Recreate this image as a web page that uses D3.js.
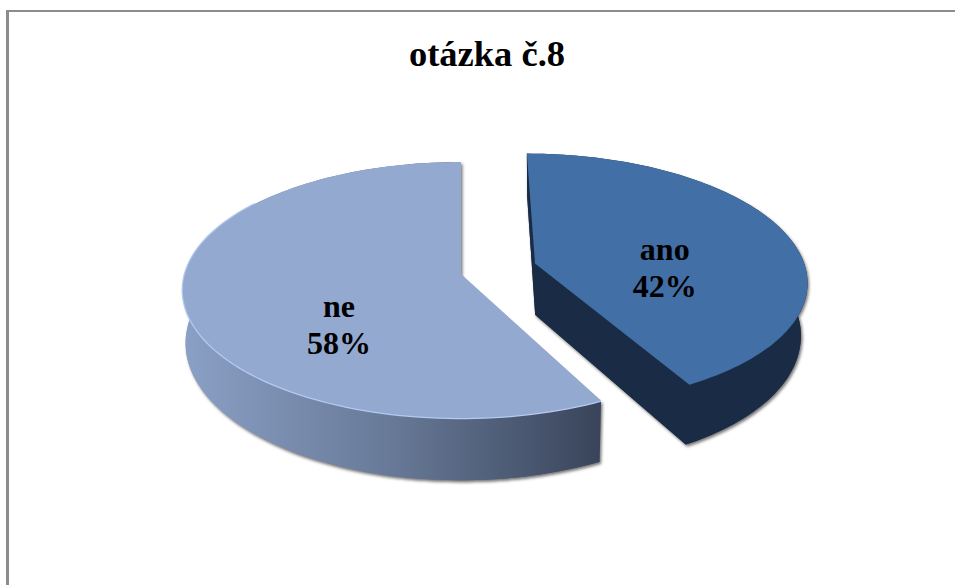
<!DOCTYPE html>
<html>
<head>
<meta charset="utf-8">
<script src="https://cdn.jsdelivr.net/npm/d3@7"></script>
<style>
  body { margin: 0; background: #fff; }
  text { font-family: "Liberation Serif", serif; font-weight: bold; fill: #000; text-anchor: middle; }
</style>
</head>
<body>
<script>
const title = 'otázka č.8';
const categories = ['ano', 'ne'];
const values = [42, 58];
const topColors = ['#426fa5', '#93a9cf'];

const w = 955, h = 585;
const svg = d3.select('body').append('svg').attr('width', w).attr('height', h);

// perspective squeeze of the flat pie onto the page
const persp = 0.125;
const cx = 461, cyTop = 274, cyBottom = 326;
const ryTop = 126, ryBottom = 135;
const rxs = [272, 276];
const bottomShrink = [0.975, 0.99];
const bottomShift = [2, 0];
const explode = [[0.275, -0.085], [0, 0]];
const startTrim = [0, 0.035];   // ne starts a touch later than ano ends

function projectTop(X, Y, i) {
  const d = 1 - persp * Y;
  return [cx + rxs[i] * X / d, cyTop + ryTop * Y / d];
}
function projectBottom(X, Y, i) {
  const d = 1 - persp * Y;
  return [cx + bottomShift[i] + rxs[i] * bottomShrink[i] * X / d, cyBottom + ryBottom * Y / d];
}

const pie = d3.pie().sort(null).startAngle(0).endAngle(2 * Math.PI);
const arcs = pie(values);
const line = d3.line();

function rim(a, i, project) {
  const [dx, dy] = explode[i];
  const start = a.startAngle + startTrim[i];
  return d3.range(0, 121).map(k => {
    const t = start + (a.endAngle - start) * k / 120;
    return project(Math.sin(t) + dx, -Math.cos(t) + dy, i);
  });
}
function centre(i, project) {
  return project(explode[i][0], explode[i][1], i);
}

const defs = svg.append('defs');
defs.append('filter').attr('id', 'soft')
  .attr('x', '-5%').attr('y', '-5%').attr('width', '110%').attr('height', '110%')
  .append('feGaussianBlur').attr('stdDeviation', 1.6);
defs.append('filter').attr('id', 'edge')
  .append('feGaussianBlur').attr('stdDeviation', 0.7);

const wallGrad = defs.append('linearGradient').attr('id', 'wallNe')
  .attr('gradientUnits', 'userSpaceOnUse')
  .attr('x1', 183).attr('x2', 602).attr('y1', 0).attr('y2', 0);
wallGrad.append('stop').attr('offset', 0).attr('stop-color', '#8ba0c6');
wallGrad.append('stop').attr('offset', 0.5).attr('stop-color', '#677997');
wallGrad.append('stop').attr('offset', 1).attr('stop-color', '#39445a');

// chart frame, runs off the page to the right and bottom
svg.append('line').attr('x1', 7.5).attr('x2', 7.5).attr('y1', 10).attr('y2', h)
  .attr('stroke', '#8c8c8c').attr('stroke-width', 3);
svg.append('line').attr('x1', 6).attr('x2', w).attr('y1', 11).attr('y2', 11)
  .attr('stroke', '#8c8c8c').attr('stroke-width', 2);

svg.append('text').attr('x', 487).attr('y', 66).attr('font-size', 36.5).text(title);

const sideFill = ['#1a2c45', 'url(#wallNe)'];

// ne goes first, ano sits over it
[1, 0].forEach(i => {
  const a = arcs[i];
  const topRim = rim(a, i, projectTop);
  const botRim = rim(a, i, projectBottom);
  const topC = centre(i, projectTop);
  const botC = centre(i, projectBottom);
  const g = svg.append('g');

  // one closed outline per face, so windings can't cancel each other
  const faces = [
    [botC, ...botRim],
    [...topRim, ...botRim.slice().reverse()]
  ];
  if (i === 0) {
    faces.push([topC, topRim[0], botRim[0], botC]);
    faces.push([topC, topRim[120], botRim[120], botC]);
  }

  // blurred grey copy gives the little drop shadow round the solid
  const shadow = g.append('g').attr('transform', 'translate(1.5,2)').attr('filter', 'url(#soft)');
  faces.forEach(f => shadow.append('path').attr('d', line(f) + 'Z').attr('fill', '#777'));
  faces.forEach(f => g.append('path').attr('d', line(f) + 'Z').attr('fill', sideFill[i]));

  const topPath = line([topC, ...topRim]) + 'Z';
  if (i === 1) {
    g.append('path').attr('d', line(topRim.slice(0, 90))).attr('fill', 'none')
      .attr('stroke', '#b4caf0').attr('stroke-width', 2.5).attr('filter', 'url(#edge)');
  }
  g.append('path').attr('d', topPath).attr('fill', topColors[i]);
});

// labels
const labelR = [0.51, 0.45];
const labelDy = [12, 29];
arcs.forEach((a, i) => {
  const t = (a.startAngle + a.endAngle) / 2;
  const p = projectTop(Math.sin(t) * labelR[i] + explode[i][0], -Math.cos(t) * labelR[i] + explode[i][1], i);
  const lab = svg.append('text').attr('font-size', 32);
  lab.append('tspan').attr('x', p[0]).attr('y', p[1] + labelDy[i]).text(categories[i]);
  lab.append('tspan').attr('x', p[0]).attr('y', p[1] + labelDy[i] + 37).text(values[i] + '%');
});
</script>
</body>
</html>
